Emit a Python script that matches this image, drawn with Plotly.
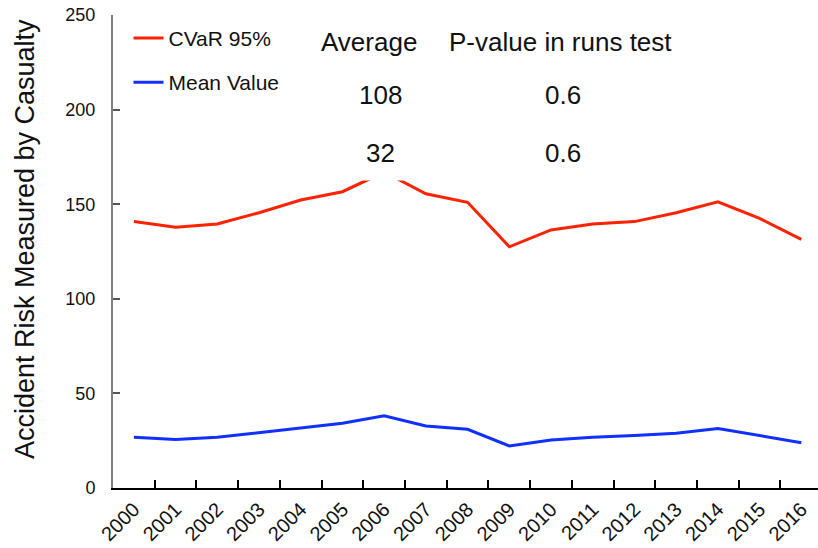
import plotly.graph_objects as go

years = [str(y) for y in range(2000, 2017)]
cvar95 = [140.8, 137.8, 139.5, 145.5, 152.2, 156.6, 167.0, 155.5, 151.0, 127.5,
          136.4, 139.5, 140.8, 145.5, 151.3, 142.5, 131.4]
mean_value = [26.8, 25.7, 26.8, 29.2, 31.5, 34.2, 38.2, 32.8, 31.0, 22.2,
              25.4, 26.8, 27.7, 28.9, 31.5, 27.7, 23.9]
y_ticks = [0, 50, 100, 150, 200, 250]

# summary table shown on the chart
table_header = ["Average", "P-value in runs test"]
averages = ["108", "32"]
p_values = ["0.6", "0.6"]

FONT = "Liberation Sans, Arial, sans-serif"
RED = "#ff2200"
BLUE = "#1030ff"

fig = go.Figure()
fig.add_trace(go.Scatter(x=years, y=cvar95, mode="lines", name="CVaR 95%",
                         legendgroup="a", line=dict(color=RED, width=3)))
fig.add_trace(go.Scatter(x=years, y=mean_value, mode="lines", name="Mean Value",
                         legendgroup="b", line=dict(color=BLUE, width=3)))

# table-like annotations
col_x = [0.363, 0.635]
row_y = [0.943, 0.831, 0.708]
ann = []
for t, cx in zip(table_header, col_x):
    ann.append(dict(text=t, x=cx, y=row_y[0]))
for i in range(2):
    a = dict(text=averages[i], x=0.379, y=row_y[i + 1])
    if i == 1:
        a.update(bgcolor="white", borderpad=12)
    ann.append(a)
    ann.append(dict(text=p_values[i], x=0.638, y=row_y[i + 1]))
for a in ann:
    a.update(xref="paper", yref="paper", showarrow=False, xanchor="center",
             yanchor="middle", font=dict(family=FONT, size=26, color="#111"))
    fig.add_annotation(**a)

fig.update_layout(
    width=818, height=548,
    margin=dict(l=113, r=0, t=15, b=60, autoexpand=False),
    paper_bgcolor="white", plot_bgcolor="white",
    font=dict(family=FONT, color="#111"),
    showlegend=True,
    legend=dict(x=0.022, y=0.994, xanchor="left", yanchor="top",
                font=dict(family=FONT, size=21, color="#111"),
                bgcolor="rgba(0,0,0,0)", tracegroupgap=14, traceorder="grouped"),
    xaxis=dict(type="category", range=[-0.5, 16.4], showgrid=False,
               automargin=False,
               showline=True, linecolor="#000", linewidth=1.5,
               ticks="inside", tickson="boundaries", ticklen=8, tickwidth=1.5,
               tickcolor="#000", tickangle=-45,
               tickfont=dict(family=FONT, size=20, color="#111")),
    yaxis=dict(range=[0, 250], tickvals=y_ticks, showgrid=False, zeroline=False,
               automargin=False,
               showline=True, linecolor="#808080", linewidth=2,
               ticks="inside", ticklen=7, tickwidth=1.5, tickcolor="#555",
               ticklabelstandoff=12,
               tickfont=dict(family=FONT, size=18, color="#111")),
)
fig.add_annotation(text="Accident Risk Measured by Casualty", textangle=-90,
                   xref="paper", yref="paper", x=-0.125, y=0.526,
                   xanchor="center", yanchor="middle", showarrow=False,
                   font=dict(family=FONT, size=27, color="#111"))

fig.write_html("out.html", config={"displayModeBar": False},
               post_script="document.body.style.margin='0';document.body.style.padding='0';")
